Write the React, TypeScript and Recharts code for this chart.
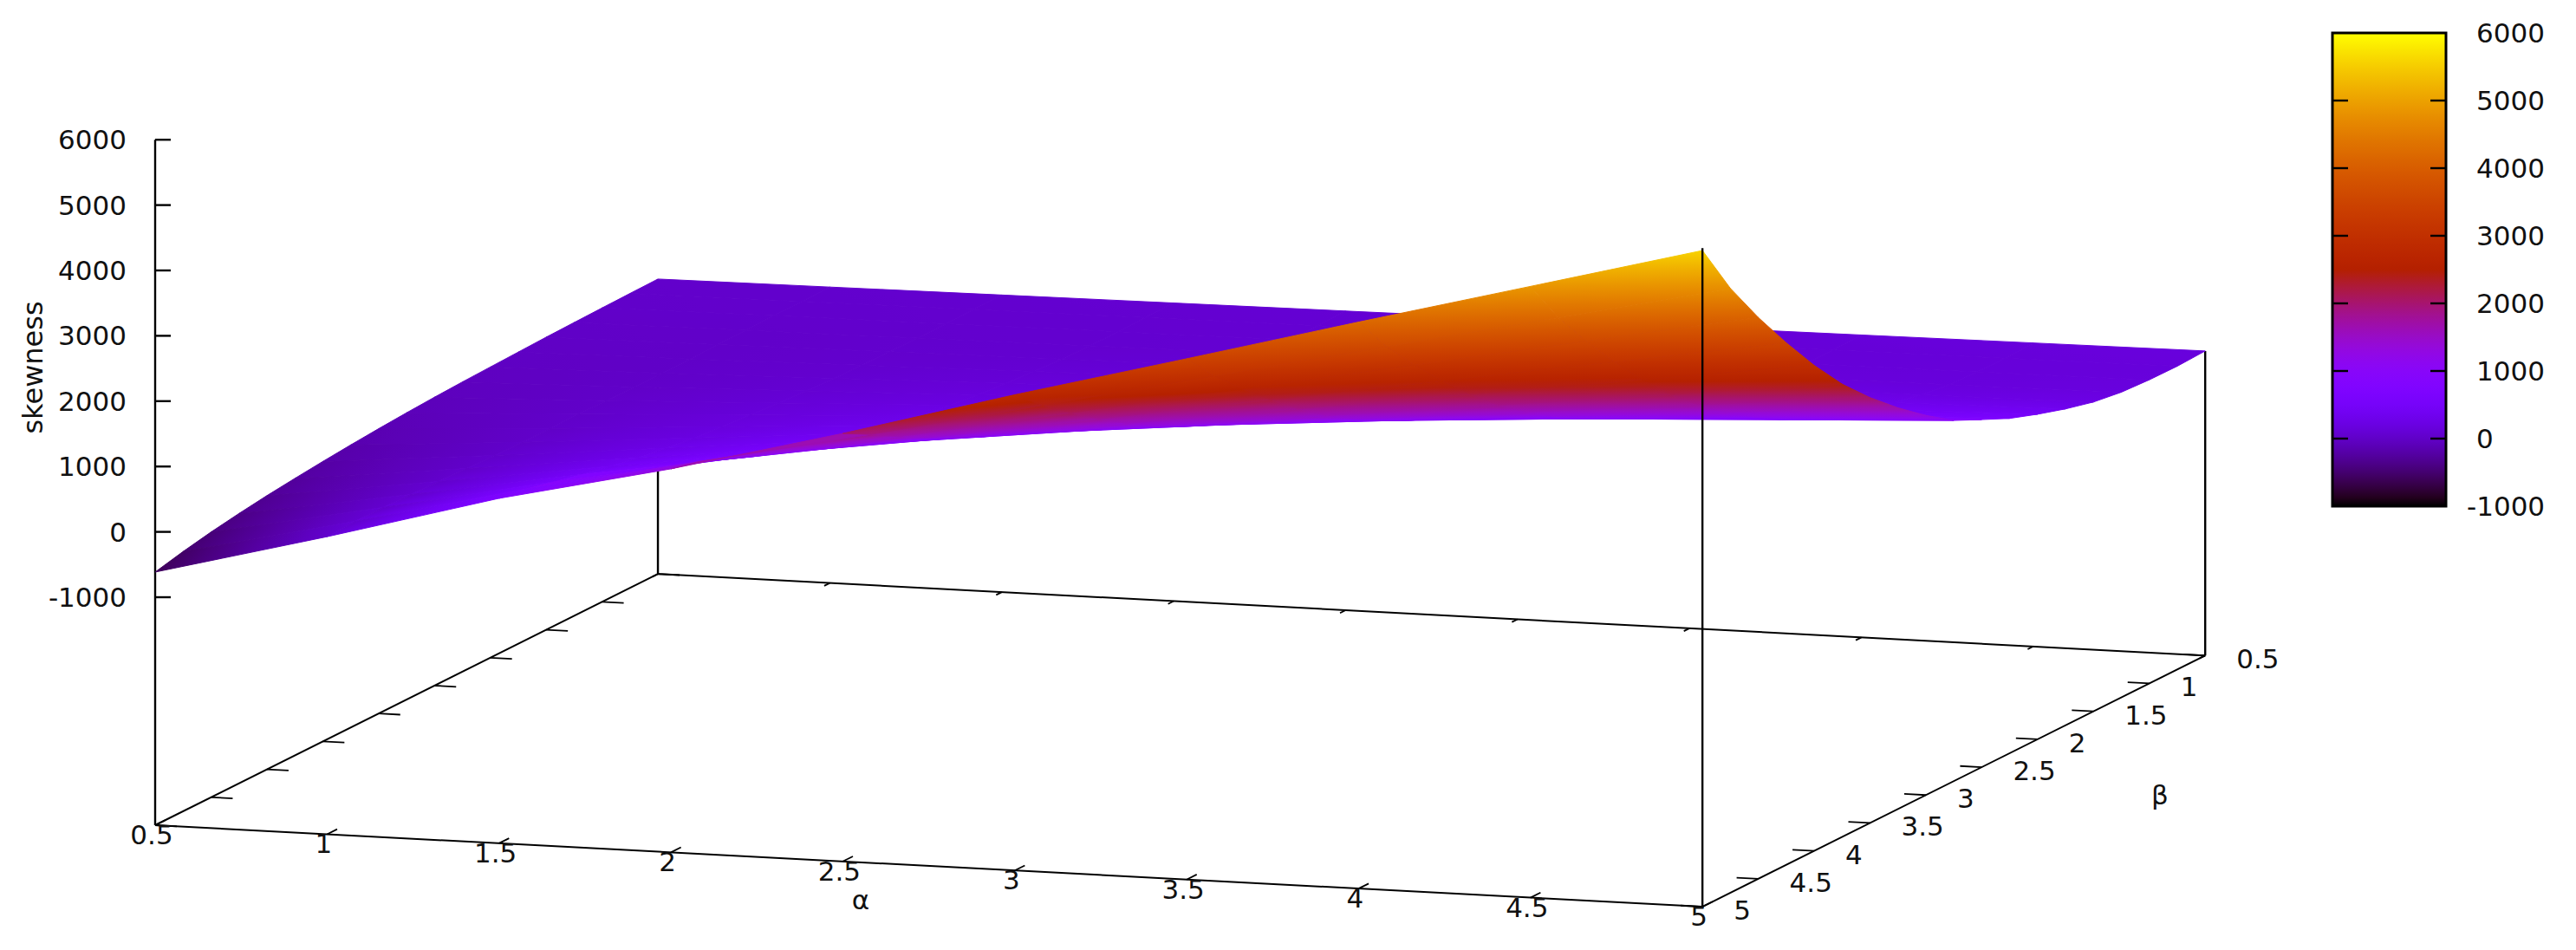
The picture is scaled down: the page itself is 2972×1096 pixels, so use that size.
import { ReferenceArea, Scatter, ScatterChart, XAxis, YAxis } from 'recharts'

const WIDTH = 2972
const HEIGHT = 1096
const FONT = '"DejaVu Sans", sans-serif'

const alphas = [0.5, 1, 1.5, 2, 2.5, 3, 3.5, 4, 4.5, 5]
const betas = [0.5, 0.75, 1, 1.25, 1.5, 1.75, 2, 2.25, 2.5, 2.75, 3, 3.25, 3.5, 3.75, 4, 4.25, 4.5, 4.75, 5]

// one row per beta, one column per alpha
const skewness = [
  [25, 41, 58, 74, 90, 107, 123, 139, 156, 172],
  [18, 36, 50, 65, 79, 93, 107, 122, 136, 152],
  [10, 31, 46, 62, 77, 93, 108, 124, 140, 158],
  [0, 20, 40, 59, 79, 99, 119, 138, 158, 182],
  [-10, 14, 43, 72, 101, 129, 158, 187, 216, 245],
  [-25, 8, 51, 94, 137, 181, 224, 267, 310, 353],
  [-40, 5, 65, 125, 185, 245, 305, 365, 425, 485],
  [-55, 7, 85, 164, 242, 321, 399, 478, 556, 635],
  [-75, 12, 114, 217, 319, 421, 523, 626, 728, 830],
  [-100, 17, 143, 270, 397, 523, 650, 777, 903, 1030],
  [-130, 13, 177, 340, 503, 667, 830, 993, 1157, 1320],
  [-165, 14, 219, 423, 628, 832, 1036, 1241, 1445, 1650],
  [-205, 27, 276, 525, 774, 1023, 1272, 1522, 1771, 2020],
  [-250, 40, 340, 640, 940, 1240, 1540, 1840, 2140, 2440],
  [-300, 56, 426, 777, 1138, 1498, 1859, 2219, 2580, 2940],
  [-360, 70, 515, 930, 1350, 1780, 2210, 2640, 3070, 3500],
  [-430, 85, 617, 1100, 1583, 2087, 2590, 3093, 3597, 4100],
  [-515, 85, 721, 1277, 1832, 2418, 3004, 3589, 4174, 4760],
  [-615, 65, 790, 1380, 2060, 2790, 3480, 4180, 4865, 5552]
]

const alphaTicks = [0.5, 1, 1.5, 2, 2.5, 3, 3.5, 4, 4.5, 5]
const betaTicks = [0.5, 1, 1.5, 2, 2.5, 3, 3.5, 4, 4.5, 5]
const zTicks = [-1000, 0, 1000, 2000, 3000, 4000, 5000, 6000]

const Z_MIN = -1000
const Z_MAX = 6000
const Z_BASE = -4488

// fixed view of the 3d box on the page
const project = (a: number, b: number, z: number) => ({
  x: 179 + (a - 0.5) * 396.7 + (5 - b) * 128.9,
  y: 952 + (a - 0.5) * 20.9 - (5 - b) * 64.4 - (z - Z_BASE) * 0.0754
})

// gnuplot rgbformulae 7,5,15
const palette = (z: number) => {
  const t = Math.min(1, Math.max(0, (z - Z_MIN) / (Z_MAX - Z_MIN)))
  const r = Math.round(255 * Math.sqrt(t))
  const g = Math.round(255 * t * t * t)
  const b = Math.round(255 * Math.max(0, Math.sin(2 * Math.PI * t)))
  return `rgb(${r},${g},${b})`
}

const segment = (a: { x: number; y: number }, b: { x: number; y: number }, w = 2.4) => ({
  x: a.x,
  y: a.y,
  x2: b.x,
  y2: b.y,
  w
})

const buildFacets = () => {
  const facets: any[] = []
  for (let j = 0; j < betas.length - 1; j++) {
    for (let i = 0; i < alphas.length - 1; i++) {
      const zs = [skewness[j][i], skewness[j][i + 1], skewness[j + 1][i + 1], skewness[j + 1][i]]
      const pts = [
        project(alphas[i], betas[j], zs[0]),
        project(alphas[i + 1], betas[j], zs[1]),
        project(alphas[i + 1], betas[j + 1], zs[2]),
        project(alphas[i], betas[j + 1], zs[3])
      ]
      const cx = (pts[0].x + pts[1].x + pts[2].x + pts[3].x) / 4
      const cy = (pts[0].y + pts[1].y + pts[2].y + pts[3].y) / 4
      const zc = (zs[0] + zs[1] + zs[2] + zs[3]) / 4
      const base = project((alphas[i] + alphas[i + 1]) / 2, (betas[j] + betas[j + 1]) / 2, Z_BASE)
      facets.push({ x: cx, y: cy, pts, zs, zc, depth: base.y, id: `f${j}-${i}` })
    }
  }
  return facets.sort((a, b) => a.depth - b.depth)
}

const facets = buildFacets()

const corner = (a: number, b: number) => project(a, b, Z_BASE)
const A0 = alphas[0]
const A1 = alphas[alphas.length - 1]
const B0 = betas[0]
const B1 = betas[betas.length - 1]

const behindLines = [
  segment(corner(A0, B0), project(A0, B0, skewness[0][0])),
  segment(corner(A1, B0), project(A1, B0, skewness[0][9])),
  segment(corner(A0, B0), corner(A1, B0), 2),
  segment(corner(A0, B1), corner(A0, B0), 2),
  segment(corner(A1, B1), corner(A1, B0), 2),
  segment(corner(A0, B1), corner(A1, B1), 2),
  segment(corner(A0, B1), project(A0, B1, Z_MAX)),
  ...alphaTicks.flatMap(a => [
    segment(corner(a, B1), corner(a, B1 - 0.09), 1.8),
    segment(corner(a, B0), corner(a, B0 + 0.05), 1.8)
  ]),
  ...betaTicks.flatMap(b => [
    segment(corner(A0, b), corner(A0 + 0.063, b), 1.8),
    segment(corner(A1, b), corner(A1 - 0.063, b), 1.8)
  ]),
  ...zTicks.map(z => {
    const p = project(A0, B1, z)
    return segment(p, { x: p.x + 18, y: p.y })
  })
]

const frontLines = [segment(corner(A1, B1), project(A1, B1, 5590))]

const BAR = { left: 2691, right: 2822, top: 38, bottom: 584 }
const barY = (z: number) => BAR.bottom - ((z - Z_MIN) / (Z_MAX - Z_MIN)) * (BAR.bottom - BAR.top)

const barLines = zTicks
  .filter(z => z > Z_MIN && z < Z_MAX)
  .flatMap(z => [
    segment({ x: BAR.left, y: barY(z) }, { x: BAR.left + 18, y: barY(z) }),
    segment({ x: BAR.right - 18, y: barY(z) }, { x: BAR.right, y: barY(z) })
  ])

const labels = [
  ...zTicks.map(z => {
    const p = project(A0, B1, z)
    return { x: 146, y: p.y + 11, text: String(z), anchor: 'end' }
  }),
  ...alphaTicks.map(a => {
    const p = corner(a, B1)
    return { x: p.x - 4, y: p.y + 22, text: String(a), anchor: 'middle' }
  }),
  ...betaTicks.map(b => {
    const p = corner(A1, b)
    return { x: p.x + 36, y: p.y + 15, text: String(b), anchor: 'start' }
  }),
  ...zTicks.map(z => ({
    x: z < 0 ? 2846 : 2857,
    y: barY(z) + 11,
    text: String(z),
    anchor: 'start'
  })),
  { x: 993, y: 1049, text: 'α', anchor: 'middle' },
  { x: 2492, y: 928, text: 'β', anchor: 'middle' }
]

const skewnessLabel = [{ x: 38, y: 424 }]

const LineShape = ({ cx, cy, payload }: any) => (
  <line
    x1={cx}
    y1={cy}
    x2={cx + payload.x2 - payload.x}
    y2={cy + payload.y2 - payload.y}
    stroke="#000"
    strokeWidth={payload.w}
  />
)

const LabelShape = ({ cx, cy, payload }: any) => (
  <text x={cx} y={cy} textAnchor={payload.anchor} fontSize={31} fontFamily={FONT} fill="#111">
    {payload.text}
  </text>
)

const RotatedLabel = ({ cx, cy }: any) => (
  <text
    x={cx}
    y={cy}
    transform={`rotate(-90 ${cx} ${cy})`}
    textAnchor="middle"
    dominantBaseline="central"
    fontSize={32}
    fontFamily={FONT}
    fill="#111"
  >
    skewness
  </text>
)

const FacetShape = ({ cx, cy, payload }: any) => {
  const { pts, zs, zc, id } = payload
  const shift = pts.map((p: any) => ({ x: cx + p.x - payload.x, y: cy + p.y - payload.y }))
  const points = shift.map((p: any) => `${p.x},${p.y}`).join(' ')

  // shade along the steepest direction of the facet, flat when it is seen edge-on
  const e1x = (shift[1].x - shift[0].x + shift[2].x - shift[3].x) / 2
  const e1y = (shift[1].y - shift[0].y + shift[2].y - shift[3].y) / 2
  const e2x = (shift[3].x - shift[0].x + shift[2].x - shift[1].x) / 2
  const e2y = (shift[3].y - shift[0].y + shift[2].y - shift[1].y) / 2
  const dz1 = (zs[1] - zs[0] + zs[2] - zs[3]) / 2
  const dz2 = (zs[3] - zs[0] + zs[2] - zs[1]) / 2
  const det = e1x * e2y - e1y * e2x
  if (Math.abs(det) < 500) {
    const flat = palette(zc)
    return <polygon points={points} fill={flat} stroke={flat} strokeWidth={1} />
  }
  const gx = (dz1 * e2y - dz2 * e1y) / det
  const gy = (e1x * dz2 - e2x * dz1) / det
  const norm = gx * gx + gy * gy
  const range = Math.max(...zs.map((z: number) => Math.abs(z - zc)))
  const stops = [0, 0.25, 0.5, 0.75, 1]
  return (
    <g>
      <defs>
        <linearGradient
          id={id}
          gradientUnits="userSpaceOnUse"
          x1={cx - (gx * range) / norm}
          y1={cy - (gy * range) / norm}
          x2={cx + (gx * range) / norm}
          y2={cy + (gy * range) / norm}
        >
          {stops.map(s => (
            <stop key={s} offset={s} stopColor={palette(zc + (2 * s - 1) * range)} />
          ))}
        </linearGradient>
      </defs>
      <polygon points={points} fill={`url(#${id})`} stroke={`url(#${id})`} strokeWidth={1} />
    </g>
  )
}

const barStops = Array.from({ length: 57 }, (_, i) => i / 56)

export default function App() {
  return (
    <div style={{ position: 'absolute', left: 0, top: 0, width: WIDTH, height: HEIGHT, background: '#fff' }}>
      <ScatterChart width={WIDTH} height={HEIGHT} margin={{ top: 0, right: 0, bottom: 0, left: 0 }}>
        <defs>
          <linearGradient id="barGradient" x1="0" y1="1" x2="0" y2="0">
            {barStops.map(s => (
              <stop key={s} offset={s} stopColor={palette(Z_MIN + s * (Z_MAX - Z_MIN))} />
            ))}
          </linearGradient>
        </defs>
        <XAxis type="number" dataKey="x" domain={[0, WIDTH]} hide />
        <YAxis type="number" dataKey="y" domain={[0, HEIGHT]} reversed hide />
        <ReferenceArea
          x1={BAR.left}
          x2={BAR.right}
          y1={BAR.top}
          y2={BAR.bottom}
          fill="url(#barGradient)"
          fillOpacity={1}
          stroke="#000"
          strokeWidth={3}
        />
        <Scatter data={behindLines} shape={LineShape} isAnimationActive={false} />
        <Scatter data={facets} shape={FacetShape} isAnimationActive={false} />
        <Scatter data={frontLines} shape={LineShape} isAnimationActive={false} />
        <Scatter data={barLines} shape={LineShape} isAnimationActive={false} />
        <Scatter data={labels} shape={LabelShape} isAnimationActive={false} />
        <Scatter data={skewnessLabel} shape={RotatedLabel} isAnimationActive={false} />
      </ScatterChart>
    </div>
  )
}
